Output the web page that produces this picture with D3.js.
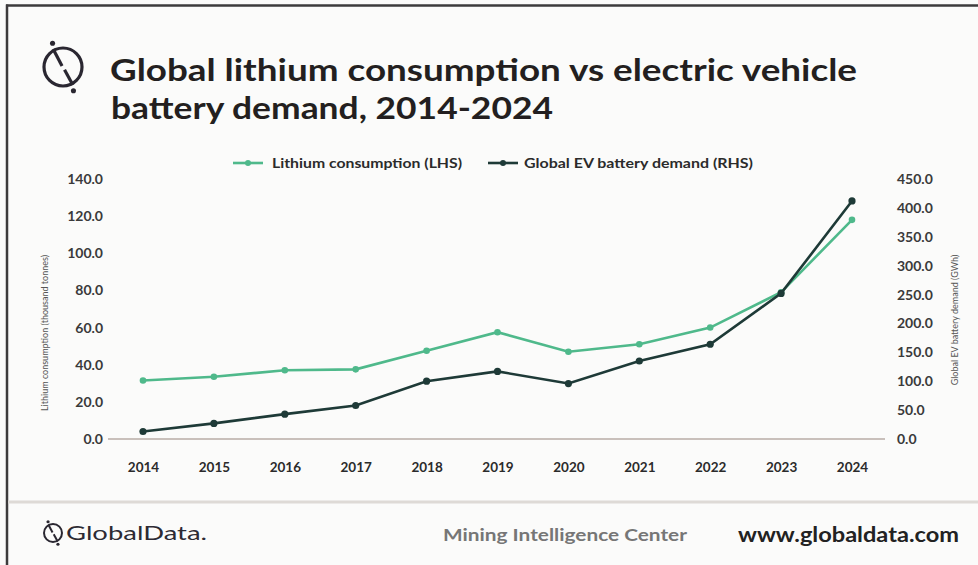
<!DOCTYPE html>
<html><head><meta charset="utf-8">
<script src="https://cdn.jsdelivr.net/npm/d3@7"></script>
<style>
html,body{margin:0;padding:0;background:#fbfbfa;}
svg{display:block;}
text{font-family:Lato,"Open Sans",sans-serif;}
</style></head>
<body>
<script>
const years = [2014, 2015, 2016, 2017, 2018, 2019, 2020, 2021, 2022, 2023, 2024];
const lithiumConsumption = [31.5, 33.5, 37.0, 37.5, 47.5, 57.5, 47.0, 51.0, 60.0, 79.0, 118.0];
const evBatteryDemand = [13, 27, 43, 58, 100, 117, 96, 135, 164, 252, 412];
const leftTicks = [0, 20, 40, 60, 80, 100, 120, 140];
const rightTicks = [0, 50, 100, 150, 200, 250, 300, 350, 400, 450];
const seriesNames = ["Lithium consumption (LHS)", "Global EV battery demand (RHS)"];
const titleLines = ["Global lithium consumption vs electric vehicle", "battery demand, 2014-2024"];

const W = 978, H = 565;
const green = "#4fb98b", dark = "#1e3a37";

const svg = d3.select("body").append("svg").attr("width", W).attr("height", H);
svg.append("rect").attr("width", W).attr("height", H).attr("fill", "#fbfbfa");

// frame lines
svg.append("line").attr("x1", 6).attr("x2", W).attr("y1", 5.5).attr("y2", 5.5)
  .attr("stroke", "#3d3b3c").attr("stroke-width", 2.5);
svg.append("line").attr("x1", 7).attr("x2", 7).attr("y1", 4.5).attr("y2", H)
  .attr("stroke", "#3d3b3c").attr("stroke-width", 2.5);

// logo mark
function logo(g, cx, cy, r, sw) {
  g.append("circle").attr("cx", cx).attr("cy", cy).attr("r", r)
    .attr("fill", "none").attr("stroke", "#2a2731").attr("stroke-width", sw);
  g.append("line").attr("x1", cx - r * 0.52).attr("y1", cy - r * 0.95)
    .attr("x2", cx - r * 0.05).attr("y2", cy - r * 0.05)
    .attr("stroke", "#2a2731").attr("stroke-width", sw);
  g.append("line").attr("x1", cx + r * 0.08).attr("y1", cy + r * 0.15)
    .attr("x2", cx + r * 0.52).attr("y2", cy + r * 0.95)
    .attr("stroke", "#2a2731").attr("stroke-width", sw);
  g.append("circle").attr("cx", cx - r * 0.55).attr("cy", cy - r * 1.25).attr("r", sw * 0.8).attr("fill", "#2a2731");
  g.append("circle").attr("cx", cx + r * 0.55).attr("cy", cy + r * 1.25).attr("r", sw * 0.8).attr("fill", "#2a2731");
}
logo(svg.append("g"), 63, 67, 19, 3.2);

// title
const tl = [{x: 110, y: 81, len: 747}, {x: 111, y: 119, len: 442}];
titleLines.forEach((t, i) => {
  svg.append("text").attr("x", tl[i].x).attr("y", tl[i].y)
    .attr("font-size", 31).attr("font-weight", 700).attr("fill", "#231f20")
    .attr("textLength", tl[i].len).attr("lengthAdjust", "spacingAndGlyphs")
    .text(t);
});

// scales
const x = d3.scalePoint().domain(years).range([143, 852]);
const yL = d3.scaleLinear().domain([0, 140]).range([439, 179]);
const yR = d3.scaleLinear().domain([0, 450]).range([439, 179]);

// baseline
svg.append("line").attr("x1", 108).attr("x2", 885).attr("y1", 439).attr("y2", 439)
  .attr("stroke", "#b8ada6").attr("stroke-width", 1.3);

// left axis
const axL = svg.append("g").attr("transform", "translate(108,0)")
  .call(d3.axisLeft(yL).tickValues(leftTicks).tickFormat(d3.format(".1f")).tickSize(0).tickPadding(5));
axL.select(".domain").remove();
axL.selectAll("text").attr("font-size", 14).attr("font-weight", 700).attr("fill", "#3a3a3a")
  .attr("font-family", "Lato, sans-serif");

// right axis
const axR = svg.append("g").attr("transform", "translate(892,0)")
  .call(d3.axisRight(yR).tickValues(rightTicks).tickFormat(d3.format(".1f")).tickSize(0).tickPadding(5));
axR.select(".domain").remove();
axR.selectAll("text").attr("font-size", 14).attr("font-weight", 700).attr("fill", "#3a3a3a")
  .attr("font-family", "Lato, sans-serif");

// x axis
const axX = svg.append("g").attr("transform", "translate(0,459)")
  .call(d3.axisBottom(x).tickSize(0).tickPadding(3));
axX.select(".domain").remove();
axX.selectAll("text").attr("font-size", 13.5).attr("font-weight", 700).attr("fill", "#2b2b2b")
  .attr("font-family", "Lato, sans-serif");

// axis titles
svg.append("text").attr("transform", "translate(48,333) rotate(-90)")
  .attr("text-anchor", "middle").attr("font-size", 9).attr("fill", "#555")
  .text("Lithium consumption (thousand tonnes)");
svg.append("text").attr("transform", "translate(958,320) rotate(-90)")
  .attr("text-anchor", "middle").attr("font-size", 9).attr("fill", "#555")
  .text("Global EV battery demand (GWh)");

// lines
const lineL = d3.line().x((d, i) => x(years[i])).y(d => yL(d));
const lineR = d3.line().x((d, i) => x(years[i])).y(d => yR(d));
svg.append("path").datum(lithiumConsumption).attr("d", lineL)
  .attr("fill", "none").attr("stroke", green).attr("stroke-width", 2.6);
svg.append("g").selectAll("circle").data(lithiumConsumption).join("circle")
  .attr("cx", (d, i) => x(years[i])).attr("cy", d => yL(d)).attr("r", 3.3).attr("fill", green);
svg.append("path").datum(evBatteryDemand).attr("d", lineR)
  .attr("fill", "none").attr("stroke", dark).attr("stroke-width", 2.6);
svg.append("g").selectAll("circle").data(evBatteryDemand).join("circle")
  .attr("cx", (d, i) => x(years[i])).attr("cy", d => yR(d)).attr("r", 3.6).attr("fill", dark);

// legend
const leg = [{c: green, x0: 233, x1: 263, tx: 272, len: 190}, {c: dark, x0: 488, x1: 518, tx: 524, len: 229}];
leg.forEach((l, i) => {
  svg.append("line").attr("x1", l.x0).attr("x2", l.x1).attr("y1", 163).attr("y2", 163)
    .attr("stroke", l.c).attr("stroke-width", 2.6);
  svg.append("circle").attr("cx", (l.x0 + l.x1) / 2).attr("cy", 163).attr("r", 3).attr("fill", l.c);
  svg.append("text").attr("x", l.tx).attr("y", 168).attr("font-size", 14).attr("font-weight", 700)
    .attr("fill", "#2b2b2b").attr("textLength", l.len).attr("lengthAdjust", "spacingAndGlyphs")
    .text(seriesNames[i]);
});

// footer
svg.append("line").attr("x1", 8).attr("x2", W).attr("y1", 502).attr("y2", 502)
  .attr("stroke", "#dedad6").attr("stroke-width", 3);
logo(svg.append("g"), 53, 533, 9, 2);
svg.append("text").attr("x", 66).attr("y", 540).attr("font-size", 20).attr("fill", "#2d2a33")
  .attr("textLength", 141).attr("lengthAdjust", "spacingAndGlyphs").text("GlobalData.");
svg.append("text").attr("x", 443).attr("y", 541).attr("font-size", 17).attr("font-weight", 700)
  .attr("fill", "#767676").attr("textLength", 244).attr("lengthAdjust", "spacingAndGlyphs")
  .text("Mining Intelligence Center");
svg.append("text").attr("x", 738).attr("y", 542).attr("font-size", 20).attr("font-weight", 700)
  .attr("fill", "#222").attr("textLength", 221).attr("lengthAdjust", "spacingAndGlyphs")
  .text("www.globaldata.com");
</script>
</body></html>
